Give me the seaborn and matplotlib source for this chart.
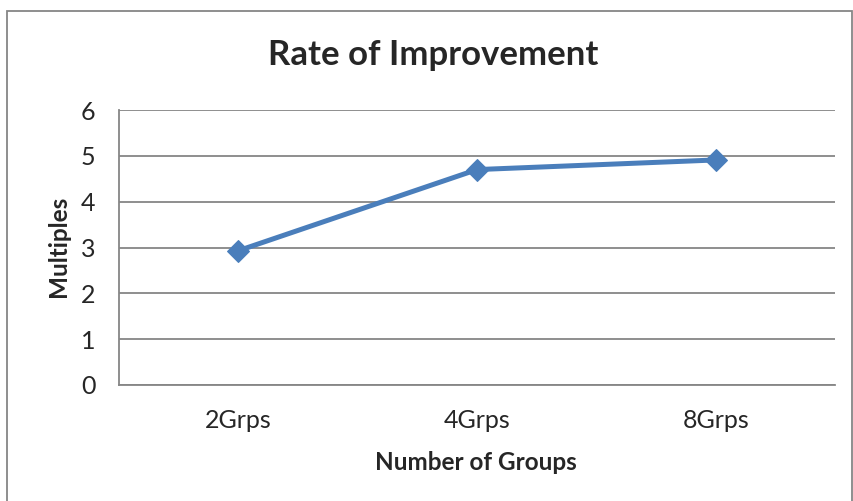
import matplotlib
matplotlib.use("Agg")
import matplotlib.pyplot as plt
import seaborn as sns
from matplotlib.patches import Rectangle

# data
groups = ["2Grps", "4Grps", "8Grps"]
multiples = [2.93, 4.70, 4.91]
y_ticks = [0, 1, 2, 3, 4, 5, 6]

sns.set_style("white")
plt.rcParams["font.family"] = ["Lato", "DejaVu Sans"]

grey = "#868686"
blue = "#4A7EBB"

fig = plt.figure(figsize=(8.54, 5.01), dpi=100)
ax = fig.add_axes([119 / 854, 1 - 385 / 501, (835 - 119) / 854, (385 - 110) / 501])

sns.lineplot(x=groups, y=multiples, ax=ax, color=blue, linewidth=3.6,
             marker="D", markersize=11, markeredgecolor=blue)

ax.set_xlim(-0.5, 2.5)
ax.set_ylim(0, 6)
ax.set_yticks(y_ticks)
ax.set_yticklabels([str(t) for t in y_ticks], fontsize=18)
ax.yaxis.grid(True, color=grey, linewidth=1.3)
ax.set_axisbelow(True)

# category boundary ticks, labels in between
ax.set_xticks([-0.5, 0.5, 1.5, 2.5])
ax.set_xticklabels([])
ax.set_xticks(range(len(groups)), minor=True)
ax.set_xticklabels(groups, minor=True, fontsize=18)
ax.tick_params(axis="x", which="major", length=6, width=1.3, color=grey, direction="out")
ax.tick_params(axis="x", which="minor", length=0, pad=17)
ax.tick_params(axis="y", length=6, width=1.3, color=grey, direction="out", pad=11)

for side in ["top", "right"]:
    ax.spines[side].set_visible(False)
for side in ["left", "bottom"]:
    ax.spines[side].set_color(grey)
    ax.spines[side].set_linewidth(1.3)

ax.set_xlabel("")
ax.set_ylabel("")
fig.text(433 / 854, 1 - 55 / 501, "Rate of Improvement", ha="center", va="center",
         fontsize=25, fontweight="bold")
fig.text(58 / 854, 1 - 246 / 501, "Multiples", ha="center", va="center",
         rotation=90, fontsize=17.5, fontweight="bold")
fig.text(476 / 854, 1 - 462 / 501, "Number of Groups", ha="center", va="center",
         fontsize=17.5, fontweight="bold")

# outer chart border
fig.patches.append(Rectangle((7 / 854, -0.02), (852 - 7) / 854, 1 - 11 / 501 + 0.02,
                             transform=fig.transFigure, fill=False,
                             edgecolor=grey, linewidth=1.3))

fig.savefig("out.png", dpi=100)
